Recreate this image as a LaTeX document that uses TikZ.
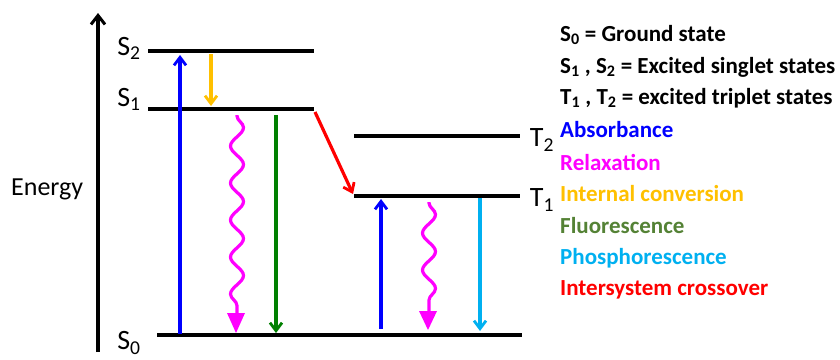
\documentclass[tikz,border=0pt]{standalone}
\usepackage{fontspec}
\setmainfont{Carlito}
\usetikzlibrary{arrows.meta,decorations.pathmorphing}
\definecolor{cabs}{RGB}{0,0,255}
\definecolor{crel}{RGB}{255,0,255}
\definecolor{cic}{RGB}{255,192,0}
\definecolor{cflarrow}{RGB}{0,128,0}
\definecolor{cfltext}{RGB}{84,130,53}
\definecolor{cph}{RGB}{0,176,240}
\definecolor{cisc}{RGB}{255,0,0}
\begin{document}
\begin{tikzpicture}[x=1pt,y=-1pt,
  level/.style={line width=3.6pt},
  trans/.style={line width=3.2pt,-{Straight Barb[length=8pt,width=12pt,line width=2.8pt]}},
  wavy/.style={line width=3.2pt,draw=crel,decorate,decoration={snake,amplitude=6.5pt,segment length=37pt,pre length=1pt,post length=3pt}},
  lvl/.style={font=\fontsize{28}{32}\selectfont,inner sep=0pt},
  legend/.style={font=\bfseries\fontsize{23}{26}\selectfont,anchor=west,inner sep=0pt}]
\useasboundingbox (0,0) rectangle (840,359);
% axis
\coordinate (axb) at (98,352);
\coordinate (axt) at (98,13);
\draw[line width=3.4pt,-{Straight Barb[length=9pt,width=14pt,line width=3pt]}] (axb) -- (axt);
\node[font=\fontsize{26}{30}\selectfont,anchor=west,inner sep=0pt] (energy) at (11,189) {Energy};
% levels
\coordinate (s2l) at (148,51); \coordinate (s2r) at (314,51);
\coordinate (s1l) at (148,109); \coordinate (s1r) at (314,109);
\coordinate (s0l) at (157,335); \coordinate (s0r) at (522,335);
\coordinate (t2l) at (354,136); \coordinate (t2r) at (520,136);
\coordinate (t1l) at (354,196); \coordinate (t1r) at (520,196);
\draw[level] (s2l) -- (s2r);
\draw[level] (s1l) -- (s1r);
\draw[level] (s0l) -- (s0r);
\draw[level] (t2l) -- (t2r);
\draw[level] (t1l) -- (t1r);
\node[lvl] (S2) at (129,48) {S\textsubscript{2}};
\node[lvl] (S1) at (129,99) {S\textsubscript{1}};
\node[lvl] (S0) at (129,343) {S\textsubscript{0}};
\node[lvl] (T2) at (542,140) {T\textsubscript{2}};
\node[lvl] (T1) at (542,200) {T\textsubscript{1}};
% transitions
\coordinate (a1s) at (180,334); \coordinate (a1e) at (180,55);
\draw[trans,cabs] (a1s) -- (a1e);
\coordinate (ics) at (211,54); \coordinate (ice) at (211,106);
\draw[trans,cic] (ics) -- (ice);
\coordinate (w1s) at (237,115); \coordinate (w1e) at (237,314);
\draw[wavy] (w1s) -- (w1e);
\coordinate (h1) at (236,333);
\fill[crel] ([xshift=-9pt,yshift=20pt]h1) -- ([xshift=9pt,yshift=20pt]h1) -- (h1) -- cycle;
\coordinate (fls) at (276,115); \coordinate (fle) at (276,333);
\draw[trans,cflarrow] (fls) -- (fle);
\coordinate (iscs) at (315,112); \coordinate (isce) at (353,194);
\draw[trans,cisc] (iscs) -- (isce);
\coordinate (a2s) at (381,329); \coordinate (a2e) at (381,199);
\draw[trans,cabs] (a2s) -- (a2e);
\coordinate (w2s) at (429,202); \coordinate (w2e) at (429,313);
\draw[wavy] (w2s) -- (w2e);
\coordinate (h2) at (428,330);
\fill[crel] ([xshift=-9pt,yshift=19pt]h2) -- ([xshift=9pt,yshift=19pt]h2) -- (h2) -- cycle;
\coordinate (phs) at (480,198); \coordinate (phe) at (480,331);
\draw[trans,cph] (phs) -- (phe);
% legend
\node[legend] (L1) at (560,35) {S\textsubscript{0} = Ground state};
\node[legend] (L2) at (560,67) {S\textsubscript{1} , S\textsubscript{2} = Excited singlet states};
\node[legend] (L3) at (560,98) {T\textsubscript{1} , T\textsubscript{2} = excited triplet states};
\node[legend,text=cabs] (L4) at (560,130) {Absorbance};
\node[legend,text=crel] (L5) at (560,162) {Relaxation};
\node[legend,text=cic] (L6) at (560,194) {Internal conversion};
\node[legend,text=cfltext] (L7) at (560,226) {Fluorescence};
\node[legend,text=cph] (L8) at (560,258) {Phosphorescence};
\node[legend,text=cisc] (L9) at (560,290) {Intersystem crossover};
\end{tikzpicture}
\end{document}
